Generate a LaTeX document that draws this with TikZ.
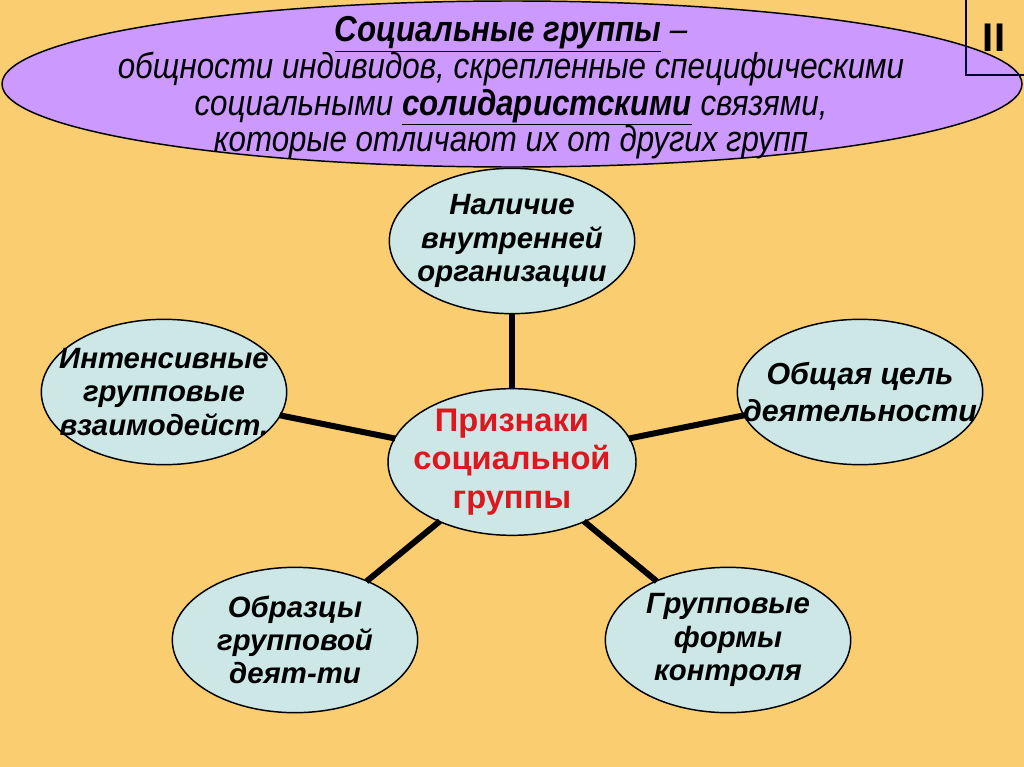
\documentclass[tikz,border=0pt]{standalone}
\usepackage{fontspec}
\setmainfont{Liberation Sans}
\newfontfamily\narrowfont[FakeStretch=0.87]{Liberation Sans}
\usetikzlibrary{shapes.geometric, positioning}
\definecolor{bg}{RGB}{250,205,112}
\definecolor{lilac}{RGB}{204,153,255}
\definecolor{pale}{RGB}{204,231,230}
\definecolor{signred}{RGB}{222,22,30}

\begin{document}
\begin{tikzpicture}[x=0.75pt,y=-0.75pt, line width=1.1pt,
	sign/.style={ellipse, draw, fill=pale, minimum width=184pt, minimum height=109pt, inner xsep=-45pt, inner ysep=-35pt, align=center, font=\bfseries\itshape\fontsize{22}{25}\selectfont},
	link/.style={line width=4.5pt, shorten >=-1pt, shorten <=-1pt}]
			\fill[bg] (0,0) rectangle (1024,767);
			\useasboundingbox (0,0) rectangle (1024,767);
			% definition on top
			\draw[fill=lilac] (512,84) ellipse [x radius=510, y radius=83];
			\node[align=center, font=\narrowfont\itshape\fontsize{27}{27.5}\selectfont] (def) at (511,88)
				{\textbf{\underline{Социальные группы}} –\\ общности индивидов, скрепленные специфическими\\
				 социальными \textbf{\underline{солидаристскими}} связями,\\ которые отличают их от других групп};
			\draw[line width=1pt, black!80!blue] (966,0) |- (1024,75);
			\node[font=\bfseries\fontsize{30}{30}\selectfont] (num) at (994,38) {II};
			% features
			\node[sign, text=signred, minimum width=186pt, minimum height=110pt, font=\bfseries\fontsize{24.5}{29}\selectfont] (0) at (512,462) {Признаки\\социальной\\группы};
			\node[sign] (1) at (512,241) {Наличие\\внутренней\\организации};
			\node[sign] (2) at (164,392) {Интенсивные\\групповые\\взаимодейст.};
			\node[sign, font=\bfseries\itshape\fontsize{22.8}{28}\selectfont] (3) at (860,392) {Общая цель\\деятельности};
			\node[sign] (4) at (295,640) {Образцы\\групповой\\деят-ти};
			\node[sign] (5) at (728,640) {Групповые\\формы\\контроля};
			\foreach \k in {1,...,5}
				\draw[link] (0) -- (\k);
		\end{tikzpicture}
\end{document}
